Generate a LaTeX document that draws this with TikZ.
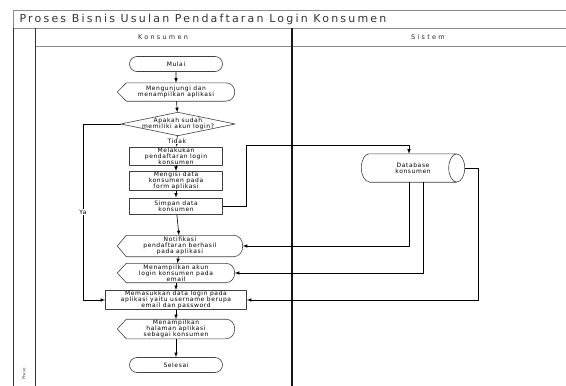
\documentclass[tikz,border=0pt]{standalone}
\usepackage{fontspec}
\setmainfont{DejaVu Sans}
\newfontfamily\titleFont[LetterSpace=20]{DejaVu Sans}
\newfontfamily\headFont[LetterSpace=35]{DejaVu Sans}
\newfontfamily\laneFont[LetterSpace=10]{DejaVu Sans}
\usetikzlibrary{shapes.misc}

% outlines around plain text nodes
\newcommand{\printDisp}[1]{\draw [shapeline] ([xshift=9pt]#1.north west) -- ([xshift=-9pt]#1.north east)
    .. controls ([xshift=3pt]#1.north east) and ([xshift=3pt]#1.south east) .. ([xshift=-9pt]#1.south east)
    -- ([xshift=9pt]#1.south west) -- (#1.west) -- cycle;}
\newcommand{\printDiam}[1]{\draw [shapeline] (#1.north) -- (#1.east) -- (#1.south) -- (#1.west) -- cycle;}
\newcommand{\printDB}[1]{\draw [shapeline] ([xshift=8pt]#1.north west) -- ([xshift=-8pt]#1.north east)
    ([xshift=8pt]#1.south west) -- ([xshift=-8pt]#1.south east)
    ([xshift=-8pt]#1.east) ellipse [x radius=8pt, y radius=14pt]
    ([xshift=8pt]#1.north west) arc [start angle=90, end angle=270, x radius=8pt, y radius=14pt];}

\tikzset{
  shapeline/.style={draw=black!75, line width=0.6pt},
  txt/.style={font=\laneFont\fontsize{6}{6.2}\selectfont, align=center, inner sep=0.5pt, text=black},
  termbox/.style={txt, rounded rectangle, shapeline, minimum width=94pt, minimum height=15pt},
  procbox/.style={txt, rectangle, shapeline, minimum width=93pt, minimum height=16pt},
  dispbox/.style={txt, minimum width=117pt, minimum height=18pt},
  decbox/.style={txt, minimum width=114pt, minimum height=23pt},
  dbbox/.style={txt, minimum width=103pt, minimum height=28pt},
  flow/.style={->, black, line width=0.6pt},
  lanehead/.style={font=\headFont\fontsize{6.5}{7}\selectfont, text=black!85},
}

\begin{document}
\begin{tikzpicture}[x=1pt,y=-1pt,line join=round,>=latex]
  \useasboundingbox (0,0) rectangle (566,386);

  % pool and lanes
  \draw [black!45, line width=0.8pt] (566,10) -- (13,10) -- (13,386);
  \draw [black!45, line width=0.8pt] (13,28) -- (566,28);
  \draw [black!45, line width=0.8pt] (35,46) -- (566,46);
  \draw [black!80, line width=0.9pt] (13,28) -- (13,386);
  \draw [black!80, line width=0.9pt] (35,28) -- (35,386);
  \draw [black!90, line width=1.1pt] (292,28) -- (292,386);
  \node [anchor=west, font=\titleFont\fontsize{11}{12}\selectfont, text=black!80] (judul) at (16,19) {Proses Bisnis Usulan Pendaftaran Login Konsumen};
  \node [lanehead] (konsumen) at (163,37) {Konsumen};
  \node [lanehead] (sistem) at (428,37) {Sistem};
  \node [rotate=90, font=\fontsize{4}{5}\selectfont, text=black!70] (fase) at (24,374) {Phase};

  % lane konsumen
  \node [termbox] (mulai) at (176,64) {Mulai};
  \node [dispbox] (kunjungi) at (176,92) {Mengunjungi dan\\menampilkan aplikasi};
  \node [decbox] (cek) at (178,124) {Apakah sudah\\memiliki akun login?};
  \node [procbox] (daftar) at (176,156) {Melakukan\\pendaftaran login\\konsumen};
  \node [procbox] (isi) at (176,181) {Mengisi data\\konsumen pada\\form aplikasi};
  \node [procbox] (simpan) at (176,206) {Simpan data\\konsumen};
  \node [dispbox, minimum width=125pt, minimum height=21pt] (notif) at (180,246) {Notifikasi\\pendaftaran berhasil\\pada aplikasi};
  \node [dispbox, minimum height=19pt] (akun) at (176,273) {Menampilkan akun\\login konsumen pada\\email};
  \node [procbox, minimum width=141pt] (masuk) at (176,300) {Memasukkan data login pada\\aplikasi yaitu username berupa\\email dan password};
  \node [dispbox] (halaman) at (176,329) {Menampilkan\\halaman aplikasi\\sebagai konsumen};
  \node [termbox] (selesai) at (176,365) {Selesai};

  % lane sistem
  \node [dbbox] (db) at (413,168) {Database\\konsumen};

  \printDisp{kunjungi}
  \printDiam{cek}
  \printDisp{notif}
  \printDisp{akun}
  \printDisp{halaman}
  \printDB{db}

  % alur utama
  \foreach \a/\b in {mulai/kunjungi, kunjungi/cek, daftar/isi, isi/simpan, simpan/notif,
      notif/akun, akun/masuk, masuk/halaman, halaman/selesai} {
      \draw [flow] (\a) -- (\b);
    }
  \draw [flow] (cek) -- node [txt, fill=white, pos=0.55, inner sep=0pt] {Tidak} (daftar);

  \coordinate (ya) at (83,124);
  \draw [flow] (cek.west) -- (ya) |- node [txt, fill=white, pos=0.25] {Ya} (masuk.west);

  % ke dan dari database
  \coordinate (naik) at (246,145);
  \draw [flow] (simpan.east) -| (naik) -| ([xshift=-4pt]db.north);
  \draw [flow] ([xshift=-4pt]db.south) |- (notif.east);
  \draw [flow] ([xshift=10pt]db.south) |- (akun.east);
  \draw [flow] (db.east) -- ++(14,0) |- (masuk.east);
\end{tikzpicture}
\end{document}
